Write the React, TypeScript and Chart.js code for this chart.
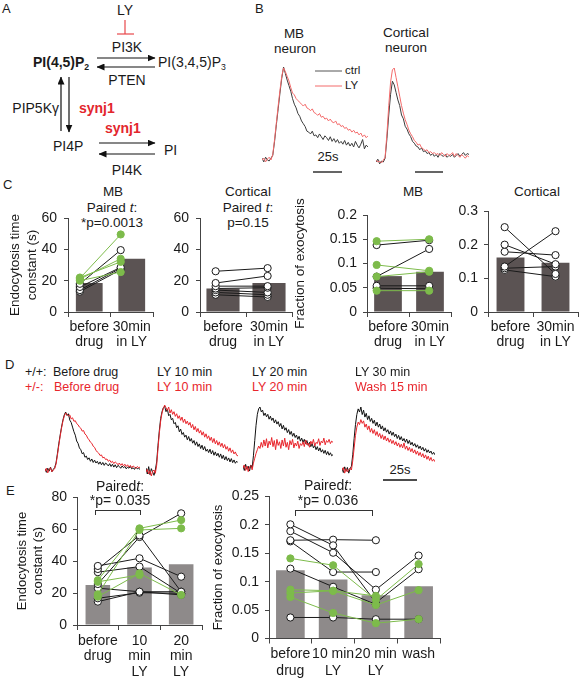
import React, { useEffect, useRef } from "react";
import { Chart, registerables } from "chart.js";

Chart.register(...registerables);

const FONT = '"Liberation Sans", Arial, Helvetica, sans-serif';
Chart.defaults.font.family = FONT;
Chart.defaults.color = "#1a1a1a";

// ---------------- DATA ----------------
// Panel B: normalized fluorescence traces
const bMbCtrl = [0.02, -0.02, 0.03, 0.0, -0.01, 0.02, 0.05, 0.2, 0.38, 0.55, 0.72, 0.88, 1.0, 0.93, 0.86, 0.8, 0.74, 0.66, 0.6, 0.56, 0.5, 0.47, 0.42, 0.39, 0.36, 0.31, 0.3, 0.28, 0.31, 0.26, 0.27, 0.24, 0.28, 0.25, 0.22, 0.26, 0.24, 0.21, 0.25, 0.2, 0.23, 0.19, 0.22, 0.18, 0.2, 0.17, 0.21, 0.16, 0.19, 0.15, 0.18, 0.14, 0.2, 0.16, 0.13, 0.17, 0.22, 0.12, 0.16, 0.14];
const bMbLY = [0.0, 0.02, -0.02, 0.01, 0.03, 0.0, 0.06, 0.22, 0.4, 0.58, 0.75, 0.9, 0.99, 0.95, 0.9, 0.85, 0.78, 0.72, 0.7, 0.66, 0.64, 0.62, 0.6, 0.58, 0.6, 0.56, 0.55, 0.53, 0.55, 0.51, 0.5, 0.48, 0.5, 0.46, 0.47, 0.44, 0.45, 0.42, 0.44, 0.41, 0.4, 0.42, 0.38, 0.39, 0.36, 0.37, 0.34, 0.35, 0.32, 0.33, 0.3, 0.32, 0.29, 0.3, 0.27, 0.29, 0.25, 0.27, 0.24, 0.26];
const bCortCtrl = [0.0, 0.03, -0.02, 0.01, 0.0, 0.04, 0.25, 0.5, 0.72, 0.86, 0.82, 0.74, 0.66, 0.6, 0.5, 0.46, 0.38, 0.35, 0.3, 0.27, 0.22, 0.2, 0.17, 0.16, 0.13, 0.15, 0.11, 0.12, 0.09, 0.1, 0.07, 0.09, 0.06, 0.08, 0.05, 0.09, 0.07, 0.06, 0.08, 0.05, 0.07, 0.06, 0.08, 0.05, 0.07, 0.09, 0.06, 0.08, 0.1, 0.07, 0.09, 0.08];
const bCortLY = [0.02, 0.0, 0.01, -0.01, 0.02, 0.05, 0.3, 0.6, 0.85, 0.98, 1.0, 0.9, 0.8, 0.7, 0.6, 0.52, 0.45, 0.4, 0.34, 0.3, 0.27, 0.23, 0.21, 0.18, 0.19, 0.15, 0.14, 0.12, 0.13, 0.1, 0.11, 0.09, 0.1, 0.08, 0.09, 0.07, 0.1, 0.08, 0.06, 0.09, 0.07, 0.08, 0.1, 0.06, 0.09, 0.07, 0.05, 0.08, 0.06, 0.04, 0.07, 0.05];

// Panel D: traces (+/+ black, +/- red)
const dWtBefore = [0.02, -0.04, 0.03, -0.02, 0.05, -0.03, 0.01, 0.04, 0.12, 0.28, 0.45, 0.6, 0.74, 0.86, 0.95, 1.0, 0.94, 0.97, 0.86, 0.82, 0.74, 0.66, 0.6, 0.5, 0.46, 0.38, 0.35, 0.28, 0.3, 0.22, 0.24, 0.18, 0.21, 0.15, 0.19, 0.13, 0.17, 0.12, 0.15, 0.1, 0.14, 0.09, 0.13, 0.08, 0.12, 0.1, 0.07, 0.11, 0.06, 0.1, 0.05, 0.09, 0.04, 0.08, 0.06, 0.03, 0.07, 0.04, 0.06, 0.02, 0.05, 0.03, 0.06, 0.02, 0.04, 0.01, 0.05, 0.02, 0.03, 0.01];
const dHetBefore = [-0.02, 0.03, -0.05, 0.01, 0.04, -0.03, 0.0, 0.02, 0.1, 0.25, 0.42, 0.58, 0.72, 0.84, 0.93, 0.98, 0.96, 0.93, 0.95, 0.88, 0.9, 0.84, 0.85, 0.8, 0.78, 0.74, 0.72, 0.67, 0.68, 0.62, 0.6, 0.55, 0.52, 0.48, 0.46, 0.41, 0.39, 0.34, 0.31, 0.29, 0.25, 0.26, 0.21, 0.22, 0.18, 0.19, 0.15, 0.17, 0.13, 0.15, 0.11, 0.14, 0.12, 0.09, 0.12, 0.08, 0.11, 0.07, 0.1, 0.06, 0.09, 0.05, 0.08, 0.04, 0.07, 0.05, 0.03, 0.06, 0.04, 0.05];
const dWt10 = [0.06, -0.03, 0.08, -0.04, 0.05, 0.0, -0.05, 0.03, 0.15, 0.4, 0.62, 0.8, 0.9, 0.96, 0.98, 0.9, 0.94, 0.84, 0.86, 0.78, 0.8, 0.72, 0.74, 0.66, 0.69, 0.6, 0.64, 0.56, 0.59, 0.52, 0.55, 0.48, 0.53, 0.46, 0.5, 0.43, 0.47, 0.4, 0.45, 0.38, 0.42, 0.35, 0.4, 0.33, 0.38, 0.31, 0.34, 0.29, 0.34, 0.27, 0.32, 0.25, 0.3, 0.24, 0.28, 0.22, 0.27, 0.2, 0.25, 0.18, 0.23, 0.17, 0.21, 0.15, 0.2, 0.14, 0.18, 0.13, 0.16, 0.14];
const dHet10 = [0.0, 0.04, -0.03, 0.02, -0.06, 0.01, 0.03, -0.02, 0.1, 0.35, 0.58, 0.76, 0.88, 0.95, 1.0, 0.96, 0.92, 0.97, 0.88, 0.93, 0.86, 0.9, 0.83, 0.87, 0.8, 0.84, 0.77, 0.82, 0.74, 0.79, 0.72, 0.76, 0.7, 0.74, 0.66, 0.71, 0.63, 0.68, 0.6, 0.65, 0.58, 0.62, 0.55, 0.6, 0.52, 0.57, 0.5, 0.54, 0.47, 0.52, 0.44, 0.5, 0.42, 0.47, 0.4, 0.45, 0.38, 0.43, 0.36, 0.41, 0.34, 0.38, 0.31, 0.36, 0.29, 0.33, 0.27, 0.3, 0.25, 0.24];
const dWt20 = [0.04, -0.04, 0.06, -0.02, 0.03, -0.05, 0.05, 0.0, 0.2, 0.45, 0.7, 0.88, 0.97, 1.0, 0.92, 0.95, 0.86, 0.9, 0.84, 0.88, 0.8, 0.85, 0.78, 0.82, 0.74, 0.79, 0.72, 0.76, 0.68, 0.73, 0.64, 0.7, 0.62, 0.66, 0.58, 0.63, 0.55, 0.6, 0.52, 0.57, 0.5, 0.54, 0.47, 0.52, 0.44, 0.49, 0.42, 0.47, 0.4, 0.45, 0.37, 0.42, 0.35, 0.4, 0.33, 0.37, 0.3, 0.35, 0.28, 0.33, 0.26, 0.3, 0.24, 0.29, 0.22, 0.27, 0.21, 0.25, 0.2, 0.22];
const dHet20 = [0.0, 0.05, -0.04, 0.03, -0.06, 0.02, 0.04, -0.03, 0.08, 0.16, 0.24, 0.3, 0.36, 0.32, 0.42, 0.34, 0.46, 0.36, 0.48, 0.33, 0.44, 0.38, 0.5, 0.35, 0.45, 0.3, 0.47, 0.37, 0.43, 0.32, 0.46, 0.36, 0.49, 0.34, 0.42, 0.3, 0.45, 0.38, 0.47, 0.33, 0.41, 0.36, 0.44, 0.32, 0.4, 0.37, 0.43, 0.35, 0.46, 0.38, 0.41, 0.34, 0.44, 0.39, 0.47, 0.36, 0.42, 0.4, 0.48, 0.37, 0.44, 0.41, 0.49, 0.38, 0.45, 0.42, 0.47, 0.4, 0.44, 0.42];
const dWt30 = [0.03, -0.04, 0.05, -0.02, 0.04, -0.05, 0.02, 0.06, 0.25, 0.5, 0.72, 0.88, 0.97, 0.92, 1.0, 0.88, 0.95, 0.84, 0.9, 0.8, 0.86, 0.77, 0.82, 0.74, 0.79, 0.7, 0.76, 0.68, 0.73, 0.65, 0.7, 0.62, 0.67, 0.6, 0.64, 0.57, 0.62, 0.55, 0.6, 0.53, 0.57, 0.5, 0.55, 0.48, 0.53, 0.46, 0.5, 0.44, 0.49, 0.42, 0.47, 0.4, 0.44, 0.38, 0.42, 0.36, 0.4, 0.34, 0.38, 0.32, 0.36, 0.3, 0.34, 0.28, 0.32, 0.27, 0.3, 0.25, 0.28, 0.24];
const dHetWash = [0.0, 0.04, -0.05, 0.02, -0.03, 0.01, 0.03, 0.0, 0.15, 0.35, 0.55, 0.68, 0.76, 0.72, 0.8, 0.74, 0.78, 0.68, 0.73, 0.64, 0.7, 0.6, 0.66, 0.58, 0.64, 0.55, 0.61, 0.53, 0.58, 0.5, 0.56, 0.48, 0.54, 0.46, 0.51, 0.44, 0.49, 0.42, 0.47, 0.4, 0.45, 0.38, 0.43, 0.36, 0.41, 0.35, 0.43, 0.33, 0.38, 0.31, 0.36, 0.29, 0.34, 0.27, 0.32, 0.25, 0.3, 0.23, 0.28, 0.21, 0.26, 0.19, 0.24, 0.17, 0.22, 0.15, 0.2, 0.14, 0.17, 0.13];

// Panel C
const cCategories = [["before", "drug"], ["30min", "in LY"]];
const cTauTicks = [0, 20, 40, 60];
const cMbTauBars = [18.5, 34];
const cMbTauGreen = [[21.5, 49.5], [21, 34], [20, 25.5], [22, 32]];
const cMbTauBlack = [[18, 39.5], [16, 28.5], [14, 28], [13, 27]];
const cCortTauBars = [15, 18.5];
const cCortTauBlack = [[26, 28], [18.5, 23], [16.5, 16.5], [15, 15.5], [14, 12.5], [12.5, 11], [11, 9.6]];
const cMbFracTicks = [0, 0.05, 0.1, 0.15, 0.2];
const cMbFracBars = [0.074, 0.083];
const cMbFracGreen = [[0.146, 0.15], [0.097, 0.085], [0.044, 0.044], [0.073, 0.083]];
const cMbFracBlack = [[0.138, 0.148], [0.073, 0.13], [0.054, 0.054], [0.049, 0.048]];
const cCortFracTicks = [0, 0.1, 0.2, 0.3];
const cCortFracBars = [0.162, 0.146];
const cCortFracBlack = [[0.252, 0.113], [0.2, 0.142], [0.179, 0.169], [0.135, 0.24], [0.13, 0.135], [0.125, 0.105]];

// Panel E
const eTauCategories = [["before", "drug"], ["10", "min", "LY"], ["20", "min", "LY"]];
const eTauTicks = [0, 20, 40, 60, 80];
const eTauBars = [25, 36, 38];
const eTauGreen = [[28, 60.4, 65.6], [19.2, 59.4, 60.4], [17.7, 32.3, 18.8], [27, 31.3, null]];
const eTauBlack = [[36.9, 41.7, 30.2], [35, 56, 20.8], [33, 36.5, 19.8], [25.6, 55, 69.8], [23, 20.8, 20.8], [16.7, 20.2, 19.8], [14.6, 20.8, 18.8]];
const eFracCategories = [["before", "drug"], ["10 min", "LY"], ["20 min", "LY"], ["wash"]];
const eFracTicks = [0, 0.05, 0.1, 0.15, 0.2, 0.25];
const eFracBars = [0.12, 0.104, 0.076, 0.092];
const eFracGreen = [[0.141, 0.129, 0.068, 0.131], [0.086, 0.084, 0.059, 0.085], [0.073, 0.045, 0.027, 0.034], [0.08, 0.084, 0.075, null]];
const eFracBlack = [[0.201, 0.164, 0.063, 0.122], [0.189, 0.151, 0.086, 0.146], [0.173, 0.174, 0.173, null], [0.171, 0.117, 0.117, null], [0.123, 0.091, 0.06, null], [0.037, 0.037, 0.034, 0.034]];

// ---------------- STYLE ----------------
const GREEN = "#7dbb4b";
const INK = "#1a1a1a";
const AXIS = "#444";
const RED = "#e8262d";

// ---------------- CHART HELPERS ----------------
type Series = { data: number[]; color: string };

function traceConfig(series: Series[], height: number, y0px: number, y1px: number): any {
  const pxPerUnit = y0px - y1px;
  const max = y0px / pxPerUnit;
  const min = max - height / pxPerUnit;
  return {
    type: "line",
    data: {
      datasets: series.map((s, k) => ({
        data: s.data.map((v, i) => ({ x: i / (s.data.length - 1), y: v })),
        borderColor: s.color,
        borderWidth: 1,
        pointRadius: 0,
        tension: 0,
        order: k,
      })),
    },
    options: {
      animation: false,
      responsive: false,
      events: [],
      plugins: { legend: { display: false }, tooltip: { enabled: false } },
      layout: { padding: 0 },
      scales: {
        x: { type: "linear", display: false, min: 0, max: 1 },
        y: { display: false, min, max },
      },
    },
  };
}

type PairedOpts = {
  labels: string[][];
  bars: number[];
  barColor: string;
  barPct: number;
  greens: (number | null)[][];
  blacks: (number | null)[][];
  ticks: number[];
  yTitle?: string[];
  titleSize?: number;
  titleLH?: number;
  titlePad?: number;
  yW: number;
  xH: number;
  padTop: number;
  padRight: number;
  pointOffset: number[];
  labelLH: number;
  labelGap: number;
  tickPad: number;
};

function pairedConfig(o: PairedOpts): any {
  const n = o.labels.length;
  const subj = (vals: (number | null)[], green: boolean, order: number) => ({
    type: "line",
    xAxisID: "x2",
    data: vals.map((v, i) => ({ x: i + o.pointOffset[i], y: v })),
    borderColor: green ? GREEN : INK,
    borderWidth: 1,
    pointRadius: 3.6,
    pointBorderWidth: 1,
    pointBackgroundColor: green ? GREEN : "#ffffff",
    pointBorderColor: green ? GREEN : INK,
    tension: 0,
    order,
  });
  return {
    type: "bar",
    data: {
      labels: o.labels,
      datasets: [
        {
          type: "bar",
          xAxisID: "x",
          data: o.bars,
          backgroundColor: o.barColor,
          borderWidth: 0,
          grouped: false,
          categoryPercentage: 1,
          barPercentage: o.barPct,
          order: 100,
        },
        ...o.blacks.map((v) => subj(v, false, 50)),
        ...o.greens.map((v) => subj(v, true, 10)),
      ],
    },
    options: {
      animation: false,
      responsive: false,
      events: [],
      plugins: { legend: { display: false }, tooltip: { enabled: false } },
      layout: { padding: { top: o.padTop, right: o.padRight, left: 0, bottom: 0 } },
      scales: {
        x: {
          type: "category",
          offset: true,
          grid: { display: true, drawOnChartArea: false, drawTicks: true, tickLength: 5, offset: true, color: AXIS },
          border: { display: true, color: AXIS, width: 1 },
          ticks: {
            color: INK,
            font: { size: 14, lineHeight: o.labelLH + "px" },
            padding: o.labelGap,
            maxRotation: 0,
            autoSkip: false,
          },
          afterFit: (s: any) => {
            s.height = o.xH;
          },
        },
        x2: { type: "linear", display: false, offset: false, min: -0.5, max: n - 0.5 },
        y: {
          min: 0,
          max: o.ticks[o.ticks.length - 1],
          afterBuildTicks: (s: any) => {
            s.ticks = o.ticks.map((v) => ({ value: v }));
          },
          grid: { drawOnChartArea: false, drawTicks: true, tickLength: 4, color: AXIS },
          border: { display: true, color: AXIS, width: 1 },
          ticks: {
            color: INK,
            font: { size: 14 },
            padding: o.tickPad,
            callback: (v: any) => String(+Number(v).toFixed(3)),
          },
          title: o.yTitle
            ? {
                display: true,
                text: o.yTitle,
                color: INK,
                font: { size: o.titleSize ?? 13, lineHeight: (o.titleLH ?? 16) + "px" },
                padding: { top: o.titlePad ?? 0, bottom: 0 },
              }
            : { display: false },
          afterFit: (s: any) => {
            s.width = o.yW;
          },
        },
      },
    },
  };
}

function ChartBox({ left, top, width, height, make }: { left: number; top: number; width: number; height: number; make: () => any }) {
  const ref = useRef<HTMLCanvasElement>(null);
  useEffect(() => {
    const chart = new Chart(ref.current as HTMLCanvasElement, make());
    return () => chart.destroy();
  }, []);
  return (
    <canvas
      ref={ref}
      width={width}
      height={height}
      style={{ position: "absolute", left, top, width, height }}
    />
  );
}

function L({
  x,
  y,
  c = INK,
  s = 13,
  b = false,
  align = "left",
  children,
}: {
  x: number;
  y: number;
  c?: string;
  s?: number;
  b?: boolean;
  align?: "left" | "center" | "right";
  children: any;
}) {
  const tx = align === "center" ? "-50%" : align === "right" ? "-100%" : "0";
  return (
    <div
      style={{
        position: "absolute",
        left: x,
        top: y,
        transform: `translate(${tx},-50%)`,
        fontSize: s,
        lineHeight: 1,
        color: c,
        fontWeight: b ? 700 : 400,
        whiteSpace: "pre",
      }}
    >
      {children}
    </div>
  );
}

const Sub = ({ children }: { children: any }) => (
  <span style={{ fontSize: "0.62em", position: "relative", top: "3px" }}>{children}</span>
);

function Bracket({ x, y, w, h }: { x: number; y: number; w: number; h: number }) {
  return (
    <div
      style={{
        position: "absolute",
        left: x,
        top: y,
        width: w,
        height: h,
        borderTop: "1px solid #333",
        borderLeft: "1px solid #333",
        borderRight: "1px solid #333",
        boxSizing: "border-box",
      }}
    />
  );
}

// ---------------- APP ----------------
export default function App() {
  const C_BAR = "#5b5353";
  const E_BAR = "#8e8a8a";
  return (
    <div
      style={{
        position: "fixed",
        left: 0,
        top: 0,
        width: 583,
        height: 680,
        background: "#fff",
        overflow: "hidden",
        fontFamily: FONT,
      }}
    >
      {/* Panel A arrows */}
      <svg width={583} height={680} style={{ position: "absolute", left: 0, top: 0 }}>
        <defs>
          <marker id="ah" markerUnits="userSpaceOnUse" markerWidth="8" markerHeight="7" refX="7.5" refY="3.5" orient="auto">
            <path d="M0,0 L8,3.5 L0,7 z" fill="#111" />
          </marker>
        </defs>
        <g stroke="#111" strokeWidth={1.2} fill="none">
          <line x1={97} y1={58} x2={155} y2={58} markerEnd="url(#ah)" />
          <line x1={155} y1={67} x2={97} y2={67} markerEnd="url(#ah)" />
          <line x1={61} y1={131} x2={61} y2={77} markerEnd="url(#ah)" />
          <line x1={69} y1={77} x2={69} y2={132} markerEnd="url(#ah)" />
          <line x1={99} y1={143} x2={155} y2={143} markerEnd="url(#ah)" />
          <line x1={155} y1={154} x2={99} y2={154} markerEnd="url(#ah)" />
        </g>
        <g stroke="#e8474a" strokeWidth={1.2}>
          <line x1={125} y1={20} x2={125} y2={34} />
          <line x1={117} y1={34} x2={134} y2={34} />
        </g>
        {/* Panel B legend lines and scale bars */}
        <line x1={315} y1={71} x2={342} y2={71} stroke="#555" strokeWidth={1} />
        <line x1={315} y1={86} x2={342} y2={86} stroke="#f36a6a" strokeWidth={1} />
        <line x1={313} y1={172} x2={342} y2={172} stroke="#111" strokeWidth={1.3} />
        <line x1={415} y1={172} x2={443} y2={172} stroke="#111" strokeWidth={1.3} />
        {/* Panel D scale bar */}
        <line x1={383} y1={480} x2={417} y2={480} stroke="#111" strokeWidth={1.3} />
      </svg>

      {/* Panel A text */}
      <L x={2} y={8} s={13}>A</L>
      <L x={125} y={10} s={14} align="center">LY</L>
      <L x={127} y={47} s={14} align="center">PI3K</L>
      <L x={33} y={62} s={14} b>
        PI(4,5)P<Sub>2</Sub>
      </L>
      <L x={158} y={62} s={14}>
        PI(3,4,5)P<Sub>3</Sub>
      </L>
      <L x={127} y={80} s={14} align="center">PTEN</L>
      <L x={59} y={108} s={14} align="right">PIP5Kγ</L>
      <L x={79} y={108} s={14} b c="#e3262d">synj1</L>
      <L x={53} y={146} s={14}>PI4P</L>
      <L x={105} y={128} s={14} b c="#e3262d">synj1</L>
      <L x={164} y={150} s={14}>PI</L>
      <L x={127} y={170} s={14} align="center">PI4K</L>

      {/* Panel B */}
      <L x={255} y={8} s={13}>B</L>
      <L x={294} y={34} s={13.5} align="center">MB</L>
      <L x={295} y={49} s={13.5} align="center">neuron</L>
      <L x={406} y={33} s={13.5} align="center">Cortical</L>
      <L x={406} y={48} s={13.5} align="center">neuron</L>
      <L x={345} y={71} s={11.5}>ctrl</L>
      <L x={345} y={86} s={11.5}>LY</L>
      <L x={328} y={156} s={13} align="center">25s</L>
      <ChartBox
        left={262}
        top={60}
        width={106}
        height={112}
        make={() => traceConfig([{ data: bMbLY, color: "#f36a6a" }, { data: bMbCtrl, color: "#3c3c3c" }], 112, 100, 7)}
      />
      <ChartBox
        left={376}
        top={60}
        width={93}
        height={112}
        make={() => traceConfig([{ data: bCortLY, color: "#f36a6a" }, { data: bCortCtrl, color: "#3c3c3c" }], 112, 102, 8)}
      />

      {/* Panel C */}
      <L x={3} y={184} s={13}>C</L>
      <L x={113} y={192} s={13.5} align="center">MB</L>
      <L x={112} y={208} s={13.5} align="center">
        Paired <i>t</i>:
      </L>
      <L x={112} y={223} s={13.5} align="center">*p=0.0013</L>
      <L x={248} y={192} s={13.5} align="center">Cortical</L>
      <L x={248} y={208} s={13.5} align="center">
        Paired <i>t</i>:
      </L>
      <L x={248} y={223} s={13.5} align="center">p=0.15</L>
      <L x={413} y={192} s={13.5} align="center">MB</L>
      <L x={537} y={192} s={13.5} align="center">Cortical</L>

      <ChartBox
        left={0}
        top={190}
        width={158}
        height={165}
        make={() =>
          pairedConfig({
            labels: cCategories,
            bars: cMbTauBars,
            barColor: C_BAR,
            barPct: 0.63,
            greens: cMbTauGreen,
            blacks: cMbTauBlack,
            ticks: cTauTicks,
            yTitle: ["Endocytosis time", "constant (s)"],
            titleSize: 13.5,
            titleLH: 17,
            titlePad: 6.5,
            yW: 68,
            xH: 43,
            padTop: 28,
            padRight: 3,
            pointOffset: [-0.22, -0.26],
            labelLH: 15,
            labelGap: 2.5,
            tickPad: 7,
          })
        }
      />
      <ChartBox
        left={165}
        top={190}
        width={132}
        height={165}
        make={() =>
          pairedConfig({
            labels: cCategories,
            bars: cCortTauBars,
            barColor: C_BAR,
            barPct: 0.72,
            greens: [],
            blacks: cCortTauBlack,
            ticks: cTauTicks,
            yW: 35,
            xH: 43,
            padTop: 28,
            padRight: 3,
            pointOffset: [-0.16, -0.03],
            labelLH: 15,
            labelGap: 2.5,
            tickPad: 7,
          })
        }
      />
      <ChartBox
        left={290}
        top={190}
        width={166}
        height={165}
        make={() =>
          pairedConfig({
            labels: cCategories,
            bars: cMbFracBars,
            barColor: C_BAR,
            barPct: 0.66,
            greens: cMbFracGreen,
            blacks: cMbFracBlack,
            ticks: cMbFracTicks,
            yTitle: ["Fraction of exocytosis"],
            titleSize: 13.5,
            titleLH: 16,
            titlePad: 2,
            yW: 77,
            xH: 43,
            padTop: 25,
            padRight: 2.5,
            pointOffset: [-0.27, -0.02],
            labelLH: 15,
            labelGap: 2.5,
            tickPad: 6,
          })
        }
      />
      <ChartBox
        left={458}
        top={190}
        width={125}
        height={165}
        make={() =>
          pairedConfig({
            labels: cCategories,
            bars: cCortFracBars,
            barColor: C_BAR,
            barPct: 0.62,
            greens: [],
            blacks: cCortFracBlack,
            ticks: cCortFracTicks,
            yW: 30,
            xH: 43,
            padTop: 21,
            padRight: 3,
            pointOffset: [-0.13, 0],
            labelLH: 15,
            labelGap: 2.5,
            tickPad: 6,
          })
        }
      />

      {/* Panel D */}
      <L x={5} y={364} s={13}>D</L>
      <L x={25} y={372} s={12.5}>+/+:</L>
      <L x={53} y={372} s={12.5}>Before drug</L>
      <L x={25} y={387} s={12.5} c={RED}>+/-:</L>
      <L x={54} y={387} s={12.5} c={RED}>Before drug</L>
      <L x={157} y={372} s={12.5}>LY 10 min</L>
      <L x={157} y={387} s={12.5} c={RED}>LY 10 min</L>
      <L x={252} y={372} s={12.5}>LY 20 min</L>
      <L x={252} y={387} s={12.5} c={RED}>LY 20 min</L>
      <L x={355} y={372} s={12.5}>LY 30 min</L>
      <L x={355} y={387} s={12.5} c={RED}>Wash 15 min</L>
      <L x={400} y={469} s={13} align="center">25s</L>
      <ChartBox left={45} top={395} width={95} height={85} make={() => traceConfig([{ data: dHetBefore, color: RED }, { data: dWtBefore, color: "#111" }], 85, 75, 17)} />
      <ChartBox left={146} top={395} width={92} height={85} make={() => traceConfig([{ data: dHet10, color: RED }, { data: dWt10, color: "#111" }], 85, 77, 10)} />
      <ChartBox left={243} top={395} width={90} height={85} make={() => traceConfig([{ data: dHet20, color: RED }, { data: dWt20, color: "#111" }], 85, 73, 12)} />
      <ChartBox left={342} top={395} width={93} height={85} make={() => traceConfig([{ data: dHetWash, color: RED }, { data: dWt30, color: "#111" }], 85, 75, 12)} />

      {/* Panel E */}
      <L x={6} y={490} s={13}>E</L>
      <L x={120} y={486} s={14} align="center">
        Paired<i>t</i>:
      </L>
      <L x={120} y={500} s={14} align="center">*p= 0.035</L>
      <Bracket x={95} y={510} w={46} h={5} />
      <L x={328} y={485} s={14} align="center">
        Paired<i>t</i>:
      </L>
      <L x={328} y={500} s={14} align="center">*p= 0.036</L>
      <Bracket x={295} y={510} w={78} h={6} />

      <ChartBox
        left={0}
        top={480}
        width={207}
        height={200}
        make={() =>
          pairedConfig({
            labels: eTauCategories,
            bars: eTauBars,
            barColor: E_BAR,
            barPct: 0.59,
            greens: eTauGreen,
            blacks: eTauBlack,
            ticks: eTauTicks,
            yTitle: ["Endocytosis time", "constant (s)"],
            titleSize: 13,
            titleLH: 16,
            titlePad: 14,
            yW: 77,
            xH: 55,
            padTop: 17,
            padRight: 3,
            pointOffset: [0, 0, 0],
            labelLH: 15.5,
            labelGap: 3.25,
            tickPad: 6,
          })
        }
      />
      <ChartBox
        left={205}
        top={480}
        width={240}
        height={200}
        make={() =>
          pairedConfig({
            labels: eFracCategories,
            bars: eFracBars,
            barColor: E_BAR,
            barPct: 0.67,
            greens: eFracGreen,
            blacks: eFracBlack,
            ticks: eFracTicks,
            yTitle: ["Fraction of exocytosis"],
            titleSize: 13,
            titleLH: 16,
            titlePad: 5,
            yW: 64,
            xH: 41.5,
            padTop: 16.5,
            padRight: 3,
            pointOffset: [0, 0, 0, 0],
            labelLH: 17,
            labelGap: 2,
            tickPad: 6,
          })
        }
      />
    </div>
  );
}
